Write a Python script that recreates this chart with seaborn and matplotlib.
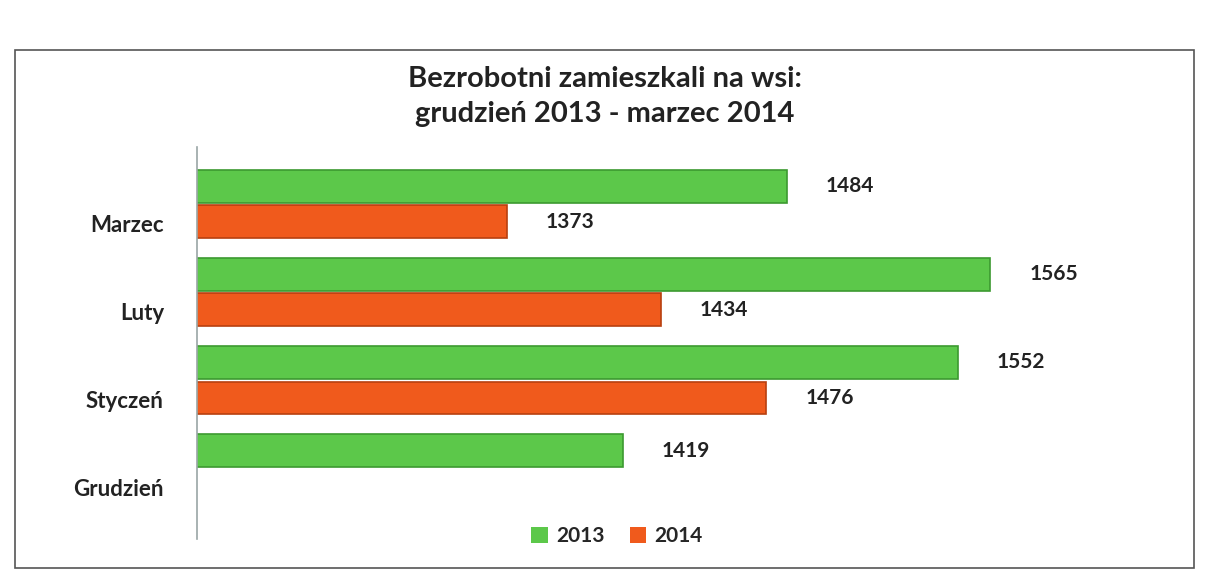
import pandas as pd
import seaborn as sns
import matplotlib.pyplot as plt
import matplotlib.transforms as mtransforms
from matplotlib.patches import Rectangle, Patch

months = ["Marzec", "Luty", "Styczeń", "Grudzień"]
years = ["2013", "2014"]
values_2013 = [1484, 1565, 1552, 1419]
values_2014 = [1373, 1434, 1476, None]

colors = {"2013": "#5cc84a", "2014": "#f05a1c"}
edges = {"2013": "#3c9a30", "2014": "#b8400f"}

df = pd.DataFrame({
    "month": months * 2,
    "year": ["2013"] * 4 + ["2014"] * 4,
    "value": values_2013 + values_2014,
}).dropna()

sns.set_style("white")
plt.rcParams["font.family"] = ["Lato", "DejaVu Sans"]

fig = plt.figure(figsize=(12.1, 5.86), dpi=100)
ax = fig.add_axes([0.163, 0.126, 0.82, 0.601])

sns.barplot(data=df, x="value", y="month", hue="year", order=months,
            hue_order=years, palette=colors, saturation=1, width=0.8, gap=0.08,
            orient="h", ax=ax, legend=False)

for cont, yr in zip(ax.containers, years):
    for bar in cont:
        bar.set_edgecolor(edges[yr])
        bar.set_linewidth(1.2)
    ax.bar_label(cont, fmt="%d", padding=28, fontsize=15, fontweight="bold",
                 color="#222222")

ax.set_xlim(1250, 1644)
ax.set_xticks([])
ax.set_xlabel("")
ax.set_ylabel("")
ax.tick_params(axis="y", length=0, pad=24, labelsize=16)
# labels sit a little below the bar pairs, as in the 3D original
shift = mtransforms.ScaledTranslation(0, -19 / 100, fig.dpi_scale_trans)
for lbl in ax.get_yticklabels():
    lbl.set_fontweight("bold")
    lbl.set_color("#222222")
    lbl.set_transform(lbl.get_transform() + shift)
for side in ["top", "right", "bottom"]:
    ax.spines[side].set_visible(False)
ax.spines["left"].set_color("#9aa6a6")
ax.spines["left"].set_linewidth(1.2)
ax.spines["left"].set_bounds(-0.65, 3.8)
ax.spines["left"].set_clip_on(False)

fig.text(0.5, 0.835, "Bezrobotni zamieszkali na wsi:\ngrudzień 2013 - marzec 2014",
         ha="center", va="center", fontsize=21, fontweight="bold",
         color="#222222", linespacing=1.45)

handles = [Patch(facecolor=colors[y], edgecolor="none") for y in years]
fig.legend(handles, years, loc="center", bbox_to_anchor=(0.51, 0.085), ncol=2,
           frameon=False, handlelength=0.8, handleheight=0.8, handletextpad=0.4,
           columnspacing=1.2, prop={"weight": "bold", "size": 15})

fig.patches.append(Rectangle((0.012, 0.03), 0.975, 0.885, transform=fig.transFigure,
                             fill=False, edgecolor="#555555", linewidth=1.2))

fig.savefig("out.png", dpi=100)
